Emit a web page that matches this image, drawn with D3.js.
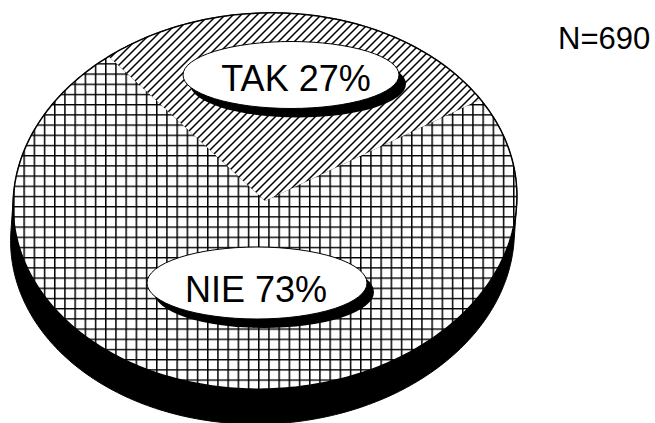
<!DOCTYPE html>
<html>
<head>
<meta charset="utf-8">
<script src="https://cdn.jsdelivr.net/npm/d3@7"></script>
<style>
  html, body { margin: 0; padding: 0; background: #fff; }
  svg { display: block; }
</style>
</head>
<body>
<script>
// ---- data ----
const categories = ["TAK", "NIE"];
const values = [27, 73];
const patterns = ["hatch", "grid"];
const sampleLabel = "N=690";

// ---- layout ----
const W = 655, H = 423;
const cx = 265, cy = 201, rx = 252, ry = 188, depth = 35, depthX = -2.5, tilt = -2.5;
const phi = tilt * Math.PI / 180;
const startDeg = -36.5;

function proj(t, dy, dx) {
  const x = rx * Math.sin(t), y = -ry * Math.cos(t);
  return [cx + x * Math.cos(phi) - y * Math.sin(phi) + (dx || 0),
          cy + x * Math.sin(phi) + y * Math.cos(phi) + (dy || 0)];
}

const svg = d3.select("body").append("svg")
  .attr("width", W).attr("height", H);

const defs = svg.append("defs");
const gs = 10.2;
const grid = defs.append("pattern").attr("id", "grid")
  .attr("patternUnits", "userSpaceOnUse").attr("width", gs).attr("height", gs)
  .attr("x", 3).attr("y", 2);
grid.append("rect").attr("width", gs).attr("height", gs).attr("fill", "#fff");
grid.append("path").attr("d", `M0.75,0 V${gs} M0,0.75 H${gs}`)
  .attr("stroke", "#000").attr("stroke-width", 1.5).attr("fill", "none");

const hs = 8;
const hatch = defs.append("pattern").attr("id", "hatch")
  .attr("patternUnits", "userSpaceOnUse").attr("width", hs).attr("height", hs);
hatch.append("rect").attr("width", hs).attr("height", hs).attr("fill", "#fff");
hatch.append("path").attr("d", `M-2,2 L2,-2 M0,${hs} L${hs},0 M${hs-2},${hs+2} L${hs+2},${hs-2}`)
  .attr("stroke", "#000").attr("stroke-width", 1.5).attr("fill", "none");

// side (extrusion)
const N = 360;
const ring = d3.range(N).map(i => i / N * 2 * Math.PI);
const hullPts = d3.polygonHull(ring.map(t => proj(t)).concat(ring.map(t => proj(t, depth, depthX))));
svg.append("path").attr("d", "M" + hullPts.join("L") + "Z")
  .attr("fill", "#000").attr("stroke", "#000").attr("stroke-width", 1);

// top slices
const pie = d3.pie().sort(null).value(d => d.v)
  .startAngle(startDeg * Math.PI / 180)
  .endAngle(startDeg * Math.PI / 180 + 2 * Math.PI);
const data = categories.map((c, i) => ({ c, v: values[i], p: patterns[i] }));
const arcs = pie(data);
const line = d3.line();
svg.selectAll("path.slice").data(arcs).join("path")
  .attr("class", "slice")
  .attr("d", d => {
    const n = Math.max(8, Math.ceil((d.endAngle - d.startAngle) / (2 * Math.PI) * 360));
    const pts = [[cx, cy]].concat(d3.range(n + 1).map(i =>
      proj(d.startAngle + (d.endAngle - d.startAngle) * i / n)));
    return line(pts) + "Z";
  })
  .attr("fill", d => `url(#${d.data.p})`)
  .attr("stroke", "none");

// top outline
svg.append("path").attr("d", line(ring.map(t => proj(t))) + "Z")
  .attr("fill", "none").attr("stroke", "#000").attr("stroke-width", 1.5);

// labels
const labelPos = [
  { ex: 291, ey: 75, erx: 108, ery: 33.5, tx: 296, ty: 91 },
  { ex: 257, ey: 283, erx: 110, ery: 36, tx: 256, ty: 302 }
];
const shadow = [7, 9];
const lg = svg.selectAll("g.lbl").data(data).join("g").attr("class", "lbl");
lg.append("ellipse")
  .attr("cx", (d, i) => labelPos[i].ex + shadow[0])
  .attr("cy", (d, i) => labelPos[i].ey + shadow[1])
  .attr("rx", (d, i) => labelPos[i].erx)
  .attr("ry", (d, i) => labelPos[i].ery)
  .attr("fill", "#000");
lg.append("ellipse")
  .attr("cx", (d, i) => labelPos[i].ex)
  .attr("cy", (d, i) => labelPos[i].ey)
  .attr("rx", (d, i) => labelPos[i].erx)
  .attr("ry", (d, i) => labelPos[i].ery)
  .attr("fill", "#fff").attr("stroke", "#000").attr("stroke-width", 1);
lg.append("text")
  .attr("x", (d, i) => labelPos[i].tx)
  .attr("y", (d, i) => labelPos[i].ty)
  .attr("text-anchor", "middle")
  .attr("font-family", "'Liberation Sans', Arial, sans-serif")
  .attr("font-size", 36)
  .attr("fill", "#000")
  .text(d => `${d.c} ${d.v}%`);

svg.append("text")
  .attr("x", 558).attr("y", 49)
  .attr("font-family", "'Liberation Sans', Arial, sans-serif")
  .attr("font-size", 31)
  .attr("fill", "#000")
  .text(sampleLabel);
</script>
</body>
</html>
